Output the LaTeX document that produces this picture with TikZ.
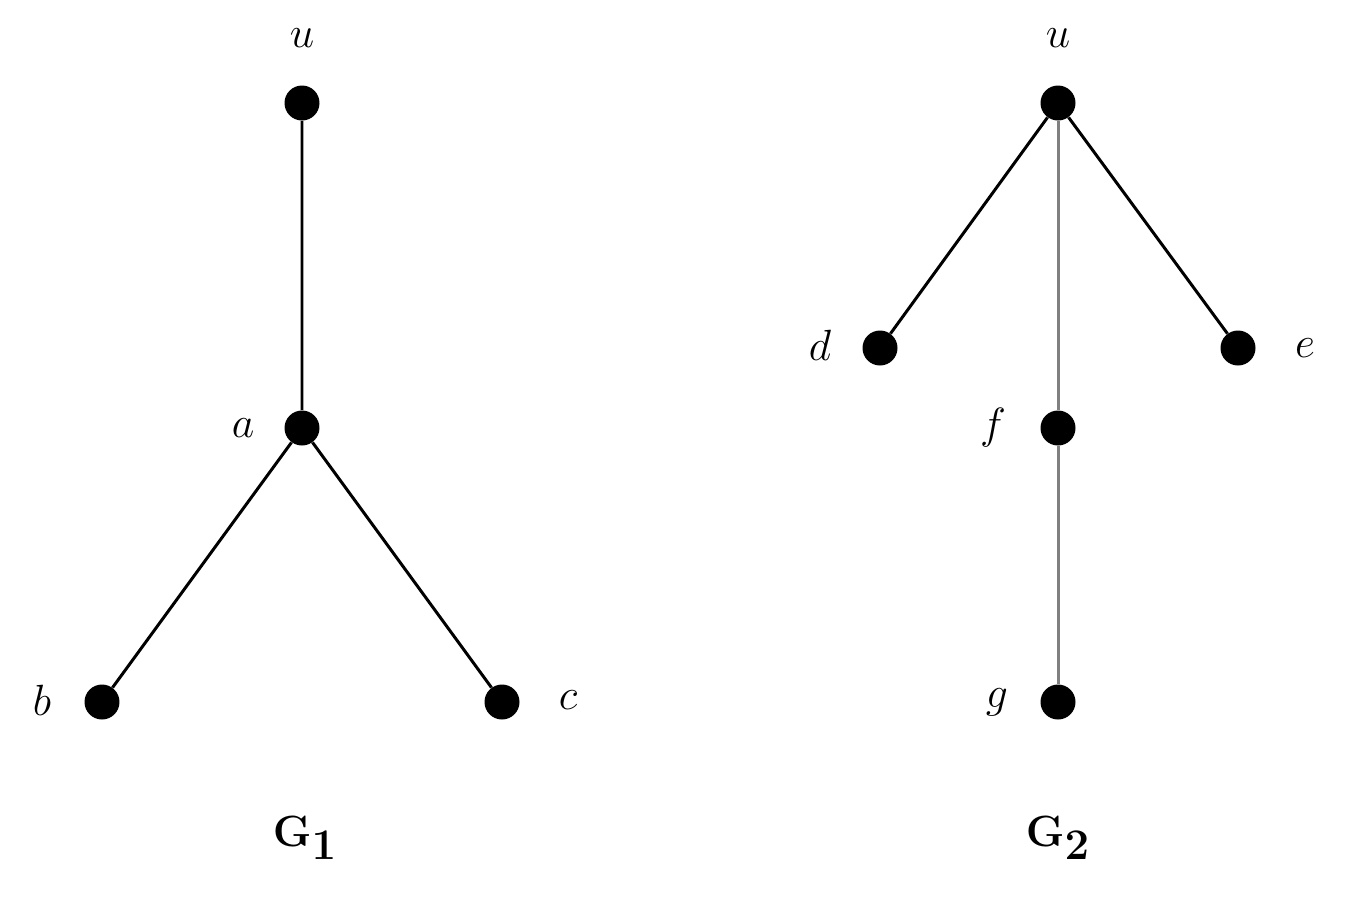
\documentclass[tikz,border=0pt]{standalone}
\begin{document}
\begin{tikzpicture}[x=0.02cm,y=-0.02cm,
  dot/.style={circle,fill=black,inner sep=0pt,minimum size=0.7cm},
  lbl/.style={font=\fontsize{48}{52}\selectfont},
  ttl/.style={font=\fontsize{40}{44}\selectfont},
  edge/.style={line width=1.7pt}]
\useasboundingbox (0,0) rectangle (1349,904);
\node[dot] (u1) at (302,103) {};
\node[dot] (a) at (302,428) {};
\node[dot] (b) at (102,702) {};
\node[dot] (c) at (502,702) {};
\node[lbl] (lu1) at (302,38) {$u$};
\node[lbl] (la) at (243,428) {$a$};
\node[lbl] (lb) at (42,700) {$b$};
\node[lbl] (lc) at (568,700) {$c$};
\node[ttl] (t1) at (305,838) {$\mathbf{G_1}$};
\draw[edge] (u1) -- (a) (a) -- (b) (a) -- (c);
\node[dot] (u2) at (1058,103) {};
\node[dot] (d) at (880,348) {};
\node[dot] (e) at (1238,348) {};
\node[dot] (f) at (1058,428) {};
\node[dot] (g) at (1058,702) {};
\node[lbl] (lu2) at (1058,38) {$u$};
\node[lbl] (ld) at (820,345) {$d$};
\node[lbl] (le) at (1305,348) {$e$};
\node[lbl] (lf) at (993,428) {$f$};
\node[lbl] (lg) at (997,702) {$g$};
\node[ttl] (t2) at (1058,838) {$\mathbf{G_2}$};
\draw[edge] (u2) -- (d) (u2) -- (e);
\draw[edge,gray] (u2) -- (f) (f) -- (g);
\end{tikzpicture}
\end{document}
